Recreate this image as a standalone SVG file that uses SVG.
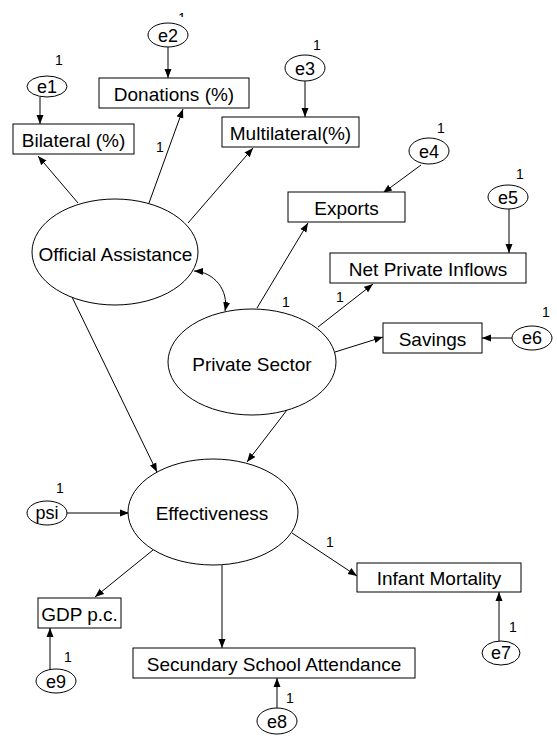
<svg xmlns="http://www.w3.org/2000/svg" width="557" height="741" viewBox="0 0 557 741">
<defs>
<marker id="ah" markerUnits="userSpaceOnUse" markerWidth="10" markerHeight="8" refX="9" refY="4" orient="auto-start-reverse">
<path d="M0,0.5 L9,4 L0,7.5 Z" fill="#000"/>
</marker>
<clipPath id="tick"><rect x="170" y="9" width="20" height="8"/></clipPath>
</defs>
<style>
.bx{fill:#fff;stroke:#000;stroke-width:1}
.el{fill:#fff;stroke:#000;stroke-width:1}
.t{font-family:"Liberation Sans",Arial,sans-serif;font-size:19px;fill:#000;text-anchor:middle}
.e{font-family:"Liberation Sans",Arial,sans-serif;font-size:18px;fill:#000;text-anchor:middle}
.n{font-family:"Liberation Sans",Arial,sans-serif;font-size:14px;fill:#000;text-anchor:middle}
.c{stroke:#000;stroke-width:1;fill:none;marker-end:url(#ah)}
</style>
<rect width="557" height="741" fill="#fff"/>
<g id="connectors">
<line class="c" x1="40" y1="97" x2="40" y2="124"/>
<line class="c" x1="168" y1="47" x2="168" y2="78"/>
<line class="c" x1="305" y1="81" x2="305" y2="117"/>
<line class="c" x1="421" y1="165" x2="383" y2="193"/>
<line class="c" x1="509" y1="209" x2="509" y2="253"/>
<line class="c" x1="512" y1="338" x2="482" y2="338"/>
<line class="c" x1="78" y1="203" x2="38" y2="156"/>
<line class="c" x1="149" y1="203" x2="183" y2="109"/>
<line class="c" x1="188" y1="223" x2="253" y2="148"/>
<line class="c" x1="72" y1="297" x2="157" y2="472"/>
<line class="c" x1="287" y1="410" x2="247" y2="462"/>
<line class="c" x1="257" y1="308" x2="308" y2="223"/>
<line class="c" x1="318" y1="327" x2="373" y2="284"/>
<line class="c" x1="335" y1="352" x2="383" y2="337"/>
<line class="c" x1="67" y1="513" x2="129" y2="513"/>
<line class="c" x1="153" y1="550" x2="95" y2="597"/>
<line class="c" x1="222" y1="565" x2="222" y2="648"/>
<line class="c" x1="292" y1="533" x2="357" y2="576"/>
<line class="c" x1="499" y1="641" x2="499" y2="592"/>
<line class="c" x1="277" y1="708" x2="277" y2="678"/>
<line class="c" x1="50" y1="670" x2="50" y2="628"/>
<path class="c" d="M194,271 C214,272 229,290 225,311" marker-start="url(#ah)"/>
</g>
<g id="OfficialAssistance"><ellipse class="el" cx="115" cy="252" rx="83" ry="53"/><text class="t" x="115.5" y="260.5">Official Assistance</text></g>
<g id="PrivateSector"><ellipse class="el" cx="252" cy="362" rx="84" ry="53"/><text class="t" x="252" y="370.5">Private Sector</text></g>
<g id="Effectiveness"><ellipse class="el" cx="213" cy="512" rx="85" ry="53"/><text class="t" x="212" y="520">Effectiveness</text></g>
<g id="Bilateral"><rect class="bx" x="13" y="124" width="121" height="30"/><text class="t" x="73.5" y="146.5">Bilateral (%)</text></g>
<g id="Donations"><rect class="bx" x="99" y="78" width="150" height="30"/><text class="t" x="174" y="101">Donations (%)</text></g>
<g id="Multilateral"><rect class="bx" x="222" y="117" width="137" height="30"/><text class="t" x="290.5" y="139.5">Multilateral(%)</text></g>
<g id="Exports"><rect class="bx" x="288" y="192" width="117" height="30"/><text class="t" x="346.5" y="214.5">Exports</text></g>
<g id="NetPrivateInflows"><rect class="bx" x="330" y="253" width="196" height="30"/><text class="t" x="428" y="275.5">Net Private Inflows</text></g>
<g id="Savings"><rect class="bx" x="383" y="323" width="99" height="30"/><text class="t" x="432.5" y="345.5">Savings</text></g>
<g id="InfantMortality"><rect class="bx" x="357" y="563" width="164" height="29"/><text class="t" x="439" y="585">Infant Mortality</text></g>
<g id="GDP"><rect class="bx" x="38" y="598" width="83" height="30"/><text class="t" x="79.5" y="621">GDP p.c.</text></g>
<g id="Secundary"><rect class="bx" x="133" y="648" width="282" height="30"/><text class="t" x="274" y="670.5">Secundary School Attendance</text></g>
<g id="e1"><ellipse class="el" cx="47" cy="86.5" rx="20" ry="10.5"/><text class="e" x="47" y="93">e1</text><text class="n" x="59" y="65">1</text></g>
<g id="e2"><ellipse class="el" cx="168" cy="35" rx="20" ry="12"/><text class="e" x="168" y="42">e2</text><text class="n" x="182" y="23" clip-path="url(#tick)">1</text></g>
<g id="e3"><ellipse class="el" cx="305" cy="68" rx="20" ry="13"/><text class="e" x="305" y="75">e3</text><text class="n" x="317" y="50">1</text></g>
<g id="e4"><ellipse class="el" cx="429" cy="151" rx="20" ry="13"/><text class="e" x="429" y="158">e4</text><text class="n" x="441" y="133">1</text></g>
<g id="e5"><ellipse class="el" cx="508" cy="197" rx="20" ry="12"/><text class="e" x="508" y="204">e5</text><text class="n" x="520" y="179">1</text></g>
<g id="e6"><ellipse class="el" cx="532" cy="338" rx="20" ry="12"/><text class="e" x="532" y="344">e6</text><text class="n" x="546" y="317">1</text></g>
<g id="psi"><ellipse class="el" cx="47" cy="513" rx="20" ry="12"/><text class="e" x="47" y="519">psi</text><text class="n" x="60" y="493">1</text></g>
<g id="e7"><ellipse class="el" cx="501" cy="653" rx="19" ry="12"/><text class="e" x="501" y="659">e7</text><text class="n" x="513" y="632">1</text></g>
<g id="e8"><ellipse class="el" cx="277" cy="721" rx="20" ry="13"/><text class="e" x="277" y="728">e8</text><text class="n" x="290" y="703">1</text></g>
<g id="e9"><ellipse class="el" cx="56" cy="681" rx="20" ry="12"/><text class="e" x="56" y="688">e9</text><text class="n" x="68" y="662">1</text></g>
<g id="pathlabels">
<text class="n" x="160" y="152">1</text>
<text class="n" x="286" y="307">1</text>
<text class="n" x="340" y="302">1</text>
<text class="n" x="330" y="547">1</text>
</g>
</svg>
